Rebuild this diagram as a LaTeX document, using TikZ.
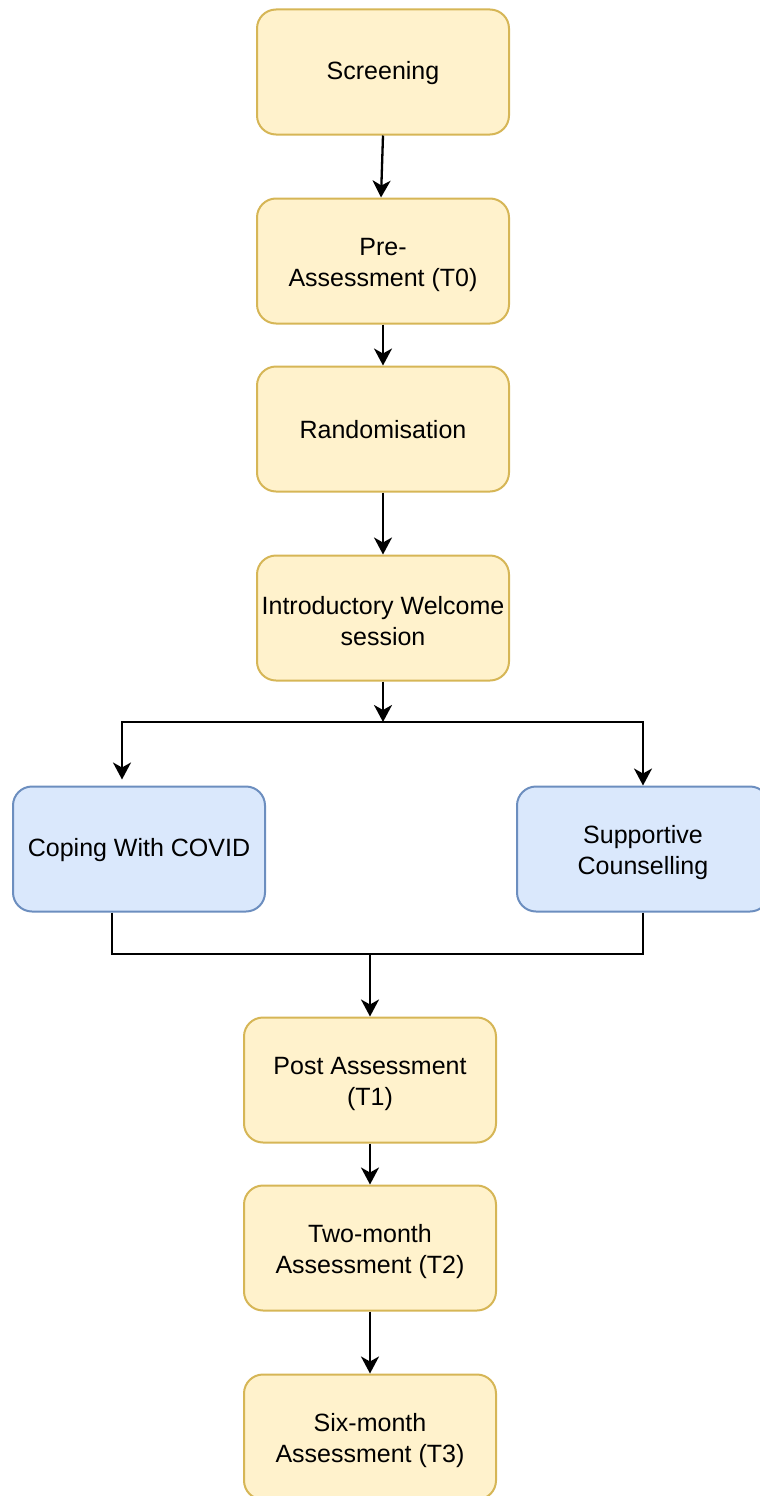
\documentclass[tikz,border=0pt]{standalone}
\usepackage{fontspec}
\setmainfont{Liberation Sans}
\usetikzlibrary{arrows.meta}
\definecolor{yfill}{HTML}{FFF2CC}
\definecolor{ydraw}{HTML}{D6B656}
\definecolor{bfill}{HTML}{DAE8FC}
\definecolor{bdraw}{HTML}{6C8EBF}
\newcommand\upa{\rule{0pt}{20pt}}
\newcommand\upb{\rule{0pt}{25pt}}
\tikzset{
  box/.style={rectangle, rounded corners=19pt, minimum width=252pt, minimum height=125pt,
    line width=2pt, align=center, inner sep=2pt, font=\fontsize{25}{31}\selectfont},
  ybox/.style={box, fill=yfill, draw=ydraw},
  bbox/.style={box, fill=bfill, draw=bdraw},
  conn/.style={line width=2.3pt, draw=black},
  arr/.style={conn, -{Stealth[length=17pt,width=18pt,inset=5pt]}}
}
\begin{document}
\begin{tikzpicture}[x=1pt,y=-1pt]
\useasboundingbox (0,0) rectangle (760,1496);
\clip (0,0) rectangle (760,1496);
\node[ybox] (scr) at (383,72) {\upa Screening};
\node[ybox] (pre) at (383,261) {\upb Pre-\\Assessment (T0)};
\node[ybox] (ran) at (383,429) {\upa Randomisation};
\node[ybox] (intro) at (383,618) {\upb Introductory Welcome\\session};
\node[bbox] (cope) at (139,849) {\upa Coping With COVID};
\node[bbox] (sup) at (643,849) {\upb Supportive\\Counselling};
\node[ybox] (post) at (370,1080) {\upb Post Assessment\\(T1)};
\node[ybox] (two) at (370,1248) {\upb Two-month\\Assessment (T2)};
\node[ybox] (six) at (370,1437) {\upb Six-month\\Assessment (T3)};

\coordinate (split) at (383,722);
\coordinate (merge) at (370,954);

\draw[arr] (scr.south) -- ([xshift=-2pt]pre.north);
\draw[arr] (pre) -- (ran);
\draw[arr] (ran) -- (intro);
\draw[arr] (intro) -- (split);
\draw[arr] (split) -| ([xshift=-17pt,yshift=6pt]cope.north);
\draw[arr] (split) -| (sup.north);
\draw[conn] ([xshift=-27pt]cope.south) |- (merge);
\draw[conn] (sup.south) |- (merge);
\draw[arr] (merge) -- (post.north);
\draw[arr] (post) -- (two);
\draw[arr] (two) -- (six);
\end{tikzpicture}
\end{document}
